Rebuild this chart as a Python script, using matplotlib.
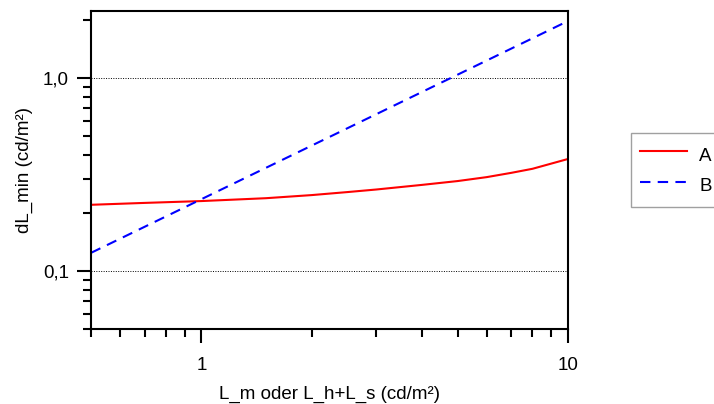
import numpy as np
import matplotlib.pyplot as plt
from matplotlib.ticker import FixedLocator, NullFormatter

plt.rcParams['font.family'] = ['Liberation Sans', 'DejaVu Sans']

x_a = [0.5, 0.7, 1.0, 1.5, 2.0, 2.5, 3.0, 4.0, 5.0, 6.0, 7.0, 8.0, 10.0]
y_a = [0.220, 0.225, 0.230, 0.238, 0.247, 0.256, 0.264, 0.279, 0.292, 0.306, 0.322, 0.338, 0.380]
x_b = [0.5, 10.0]
y_b = [0.124, 1.97]

fig = plt.figure(figsize=(7.14, 4.04), dpi=100)
ax = fig.add_axes([91 / 714, 1 - 329 / 404, (568 - 91) / 714, (329 - 11) / 404])

ax.plot(x_a, y_a, color='#ff0000', lw=1.5, label='A')
ax.plot(x_b, y_b, color='#0000ff', lw=1.5, dashes=(5, 3.5), label='B')

ax.set_xscale('log')
ax.set_yscale('log')
ax.set_xlim(0.5, 10)
ax.set_ylim(0.05, 2.22)

ax.xaxis.set_major_locator(FixedLocator([1, 10]))
ax.xaxis.set_minor_locator(FixedLocator([0.5, 0.6, 0.7, 0.8, 0.9, 2, 3, 4, 5, 6, 7, 8, 9]))
ax.set_xticklabels(['1', '10'])
ax.xaxis.set_minor_formatter(NullFormatter())

ax.yaxis.set_major_locator(FixedLocator([0.1, 1.0]))
ax.yaxis.set_minor_locator(FixedLocator([0.05, 0.06, 0.07, 0.08, 0.09, 0.2, 0.3, 0.4, 0.5, 0.6,
                                         0.7, 0.8, 0.9, 2]))
ax.set_yticklabels(['0,1', '1,0'])
ax.yaxis.set_minor_formatter(NullFormatter())

fs = 13.5
ax.tick_params(which='major', direction='out', length=10, width=1.5, labelsize=fs, pad=6)
ax.tick_params(which='minor', direction='out', length=6, width=1.5)
ax.tick_params(axis='x', which='major', pad=10)

for s in ax.spines.values():
    s.set_linewidth(1.5)

ax.grid(axis='y', which='major', color='black', linestyle=(0, (1, 1.5)), lw=0.7)

ax.set_xlabel('L_m oder L_h+L_s (cd/m²)', fontsize=fs, labelpad=9)
ax.set_ylabel('dL_min (cd/m²)', fontsize=fs, labelpad=7)

leg = fig.legend(loc='upper left', bbox_to_anchor=(631 / 714, 1 - 133 / 404), fontsize=fs,
                 fancybox=False, edgecolor='#a0a0a0', framealpha=1, handlelength=2.5,
                 handleheight=1.6, borderpad=0.5, labelspacing=0.35, handletextpad=0.64,
                 borderaxespad=0)
leg.get_frame().set_linewidth(1.0)

fig.savefig('out.png', dpi=100)
